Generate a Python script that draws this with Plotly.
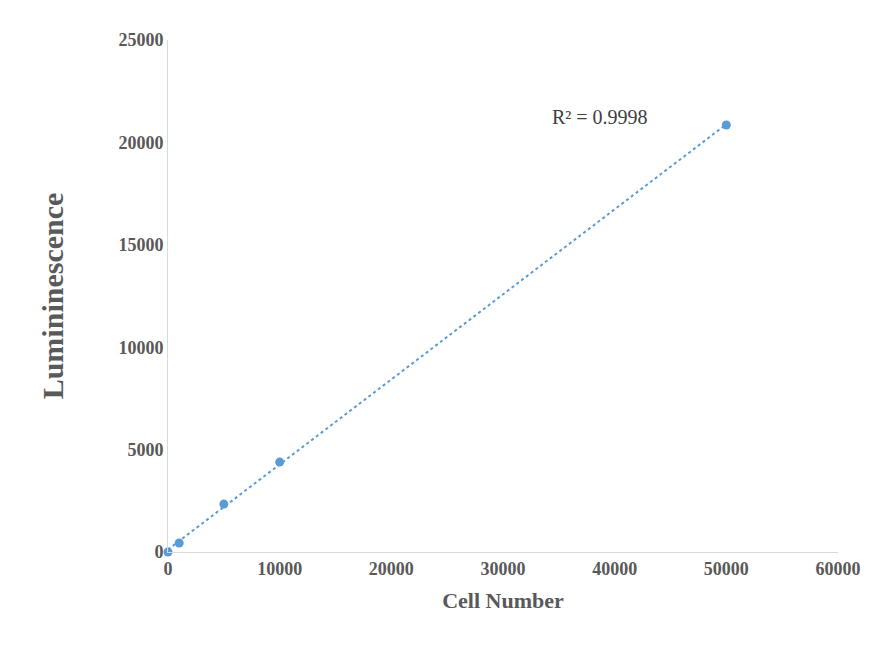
import numpy as np
import plotly.graph_objects as go

# Data
cell_number = [0, 1000, 5000, 10000, 50000]
luminescence = [0, 440, 2340, 4390, 20850]
r2_label = "R² = 0.9998"

# Linear trendline through the points
slope, intercept = np.polyfit(cell_number, luminescence, 1)
trend_x = np.array([0, 50000])
trend_y = slope * trend_x + intercept

fig = go.Figure()
fig.add_trace(go.Scatter(
    x=trend_x, y=trend_y, mode="lines",
    line=dict(color="#5b9bd5", width=2, dash="dot"),
    hoverinfo="skip"
))
fig.add_trace(go.Scatter(
    x=cell_number, y=luminescence, mode="markers", cliponaxis=False,
    marker=dict(color="#5b9bd5", size=9)
))

fig.add_annotation(x=38700, y=21250, text=r2_label, showarrow=False,
                   xanchor="center", yanchor="middle",
                   font=dict(family="Liberation Serif", size=20, color="#404040"))

fig.update_layout(
    width=882, height=663,
    margin=dict(l=160, r=52, t=32, b=119),
    paper_bgcolor="white", plot_bgcolor="white",
    showlegend=False,
    font=dict(family="Liberation Serif", color="#595959"),
    xaxis=dict(
        range=[0, 60000], tickvals=[0, 10000, 20000, 30000, 40000, 50000, 60000],
        tickformat="d",
        showgrid=False, zeroline=False, showline=True, linecolor="#d9d9d9", linewidth=1,
        tickfont=dict(size=18, family="Liberation Serif", weight="bold", color="#595959"),
        title=dict(text="<b>Cell Number</b>", font=dict(size=22, color="#595959"), standoff=15),
        ticks="", ticklen=0,
    ),
    yaxis=dict(
        range=[0, 25000], tickvals=[0, 5000, 10000, 15000, 20000, 25000],
        tickformat="d",
        showgrid=False, zeroline=False, showline=True, linecolor="#d9d9d9", linewidth=1,
        tickfont=dict(size=18, family="Liberation Serif", weight="bold", color="#595959"),
        title=dict(text="<b>Lumininescence</b>", font=dict(size=30, color="#595959"), standoff=45),
        ticks="",
    ),
)

fig.write_html("out.html")
